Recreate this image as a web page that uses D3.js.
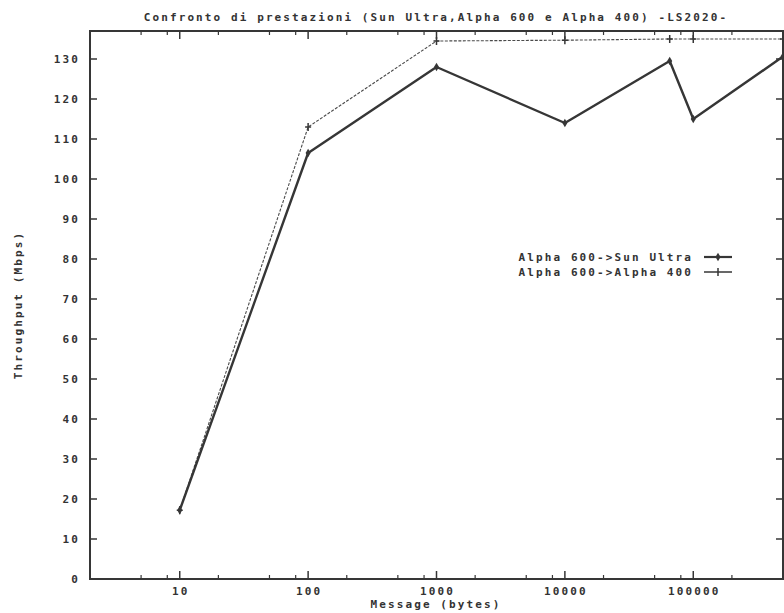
<html>
<script src='https://d3js.org/d3.v7.min.js'></script>
<head>
    <meta charset="UTF-8">
    <style>
        body {
            margin: 0;
            background: #fff;
        }
        svg text {
            font-family: "DejaVu Sans Mono", monospace;
            font-weight: bold;
            font-size: 11px;
            letter-spacing: 2.1px;
            fill: #333;
        }
    </style>
</head>
<body>
<svg width=784 height=613></svg>
</body>
<script>
    // message sizes (bytes) and throughput (Mbps)
    const sizes = [10, 100, 1000, 10000, 65536, 100000, 500000];
    const sunUltra = [17.2, 106.5, 128, 114, 129.5, 115, 130.6];
    const alpha400 = [17.2, 113, 134.5, 134.7, 135, 135, 135];

    const xTicks = [10, 100, 1000, 10000, 100000];
    const xTickLabels = ["10", "100", "1000", "10000", "100000"];
    const yTicks = [0, 10, 20, 30, 40, 50, 60, 70, 80, 90, 100, 110, 120, 130];

    const seriesNames = ["Alpha 600->Sun Ultra", "Alpha 600->Alpha 400"];

    const plotLeft = 90, plotRight = 783, plotTop = 31, plotBottom = 579;
    const ink = "#363636";

    const svg = d3.select("svg");
    svg.append("rect").attr("width", 784).attr("height", 613).attr("fill", "#fff");

    const x = d3.scaleLog().domain([2, 500000]).range([plotLeft, plotRight]);
    const y = d3.scaleLinear().domain([0, 137]).range([plotBottom, plotTop]);

    // y axis ticks (left and mirrored on right)
    const ga = svg.append("g");
    yTicks.forEach(v => {
        ga.append("line").attr("x1", plotLeft).attr("x2", plotLeft + 7)
          .attr("y1", y(v)).attr("y2", y(v)).attr("stroke", ink).attr("stroke-width", 1.5);
        ga.append("line").attr("x1", plotRight).attr("x2", plotRight - 7)
          .attr("y1", y(v)).attr("y2", y(v)).attr("stroke", ink).attr("stroke-width", 1.5);
        ga.append("text").attr("x", 80).attr("y", y(v)).attr("dy", "0.35em")
          .attr("text-anchor", "end").text(v);
    });

    // x axis ticks, major + minor (2,5,8 per decade), mirrored on top
    const minor = [];
    for (let d = 1; d <= 100000; d *= 10) {
        [2, 5, 8].forEach(m => {
            const v = d * m;
            if (v >= 2 && v <= 500000) minor.push(v);
        });
    }
    minor.forEach(v => {
        ga.append("line").attr("x1", x(v)).attr("x2", x(v))
          .attr("y1", plotBottom).attr("y2", plotBottom - 4).attr("stroke", ink).attr("stroke-width", 1.2);
        ga.append("line").attr("x1", x(v)).attr("x2", x(v))
          .attr("y1", plotTop).attr("y2", plotTop + 4).attr("stroke", ink).attr("stroke-width", 1.2);
    });
    xTicks.forEach((v, i) => {
        ga.append("line").attr("x1", x(v)).attr("x2", x(v))
          .attr("y1", plotBottom).attr("y2", plotBottom - 8).attr("stroke", ink).attr("stroke-width", 1.5);
        ga.append("line").attr("x1", x(v)).attr("x2", x(v))
          .attr("y1", plotTop).attr("y2", plotTop + 8).attr("stroke", ink).attr("stroke-width", 1.5);
        ga.append("text").attr("x", x(v) + 1).attr("y", 591).attr("dy", "0.35em")
          .attr("text-anchor", "middle").text(xTickLabels[i]);
    });

    // frame
    svg.append("rect")
        .attr("x", plotLeft).attr("y", plotTop)
        .attr("width", plotRight - plotLeft).attr("height", plotBottom - plotTop)
        .attr("fill", "none").attr("stroke", ink).attr("stroke-width", 2);

    // titles
    svg.append("text").attr("x", 436).attr("y", 17).attr("dy", "0.35em")
        .attr("text-anchor", "middle")
        .text("Confronto di prestazioni (Sun Ultra,Alpha 600 e Alpha 400) -LS2020-");
    svg.append("text").attr("x", 436).attr("y", 604).attr("dy", "0.35em")
        .attr("text-anchor", "middle").text("Message (bytes)");
    svg.append("text")
        .attr("transform", `translate(18,${(plotTop + plotBottom) / 2}) rotate(-90)`)
        .attr("dy", "0.35em").attr("text-anchor", "middle")
        .text("Throughput (Mbps)");

    const line = d3.line().x(d => x(d[0])).y(d => y(d[1]));
    const s1 = sizes.map((s, i) => [s, sunUltra[i]]);
    const s2 = sizes.map((s, i) => [s, alpha400[i]]);

    const diamond = d3.symbol().type(d3.symbolDiamond).size(22);

    // Alpha 600 -> Alpha 400 (thin dashed, plus markers)
    svg.append("path").datum(s2).attr("d", line)
        .attr("fill", "none").attr("stroke", "#4a4a4a")
        .attr("stroke-width", 1.1).attr("stroke-dasharray", "3,1.5");
    svg.selectAll(".p2").data(s2).enter().append("path")
        .attr("class", "p2")
        .attr("d", d => `M${x(d[0]) - 3},${y(d[1])}H${x(d[0]) + 3}M${x(d[0])},${y(d[1]) - 4}V${y(d[1]) + 4}`)
        .attr("stroke", ink).attr("stroke-width", 1.5);

    // Alpha 600 -> Sun Ultra (thick, diamonds)
    svg.append("path").datum(s1).attr("d", line)
        .attr("fill", "none").attr("stroke", ink)
        .attr("stroke-width", 2.4).attr("stroke-linejoin", "round");
    svg.selectAll(".p1").data(s1).enter().append("path")
        .attr("class", "p1")
        .attr("transform", d => `translate(${x(d[0])},${y(d[1])})`)
        .attr("d", diamond).attr("fill", ink);

    // legend
    const lg = svg.append("g");
    seriesNames.forEach((n, i) => {
        const ly = 257 + i * 15;
        lg.append("text").attr("x", 693).attr("y", ly).attr("dy", "0.35em")
          .attr("text-anchor", "end").text(n);
        lg.append("line").attr("x1", 704).attr("x2", 732).attr("y1", ly).attr("y2", ly)
          .attr("stroke", ink).attr("stroke-width", i === 0 ? 2.2 : 1.5);
        if (i === 0) {
            lg.append("path").attr("transform", `translate(718,${ly})`)
              .attr("d", diamond).attr("fill", ink);
        } else {
            lg.append("path").attr("d", `M718,${ly - 4}V${ly + 4}`)
              .attr("stroke", ink).attr("stroke-width", 1.5);
        }
    });
</script>
</html>
